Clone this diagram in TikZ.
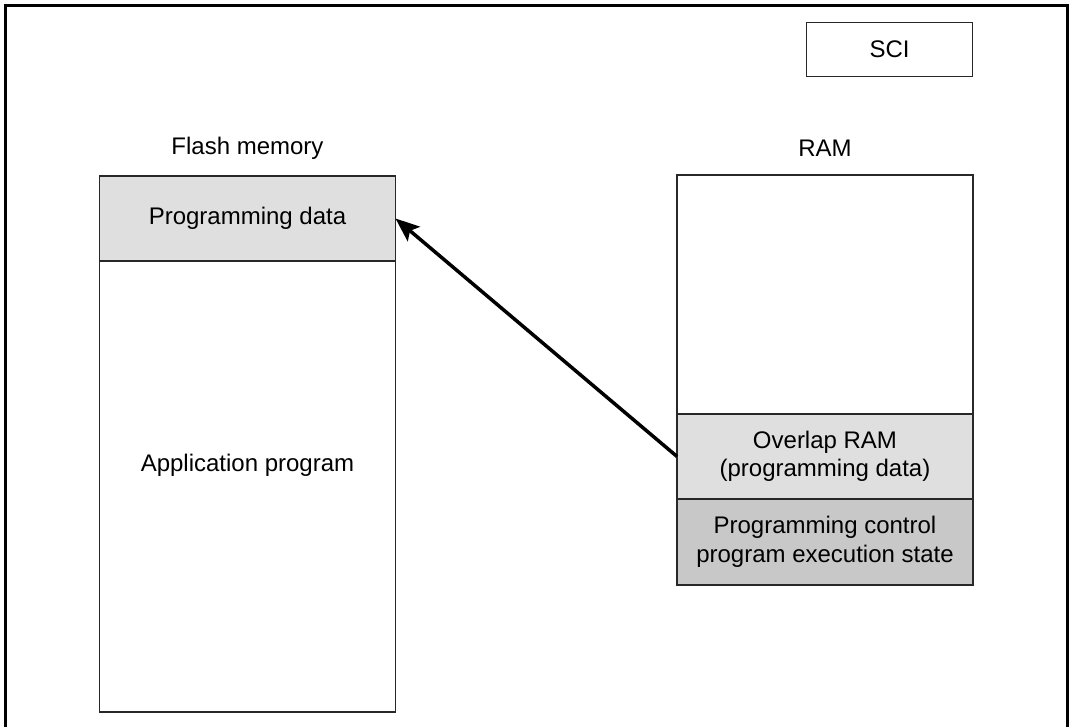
\documentclass[tikz,border=0pt]{standalone}
\usepackage{fontspec}
\setmainfont{Liberation Sans}
\usetikzlibrary{arrows.meta}
\definecolor{lightfill}{RGB}{223,223,223}
\definecolor{darkfill}{RGB}{200,200,200}
\definecolor{edge}{RGB}{40,40,40}
\begin{document}
\begin{tikzpicture}[x=1pt,y=-1pt,
  every node/.style={font=\fontsize{24}{28.5}\selectfont, inner sep=0pt, outer sep=0pt},
  memblock/.style={draw=edge, line width=1.3pt, rectangle, minimum width=296pt, align=center},
  lbl/.style={align=center},
  bigarrow/.style={line width=3.5pt, -{Stealth[length=24pt,width=19pt,inset=5pt]}}]
\useasboundingbox (0,0) rectangle (1072,727);
% outer frame (open at bottom)
\draw[line width=3pt] (5,727) -- (5,6) -- (1067,6) -- (1067,727);
% SCI
\node[draw=edge, line width=1.3pt, minimum width=166pt, minimum height=54pt] (sci) at (889.5,49.5) {SCI};
% Flash memory
\node[lbl] (flashlbl) at (247.5,148) {Flash memory};
\node[memblock, fill=lightfill, minimum height=85pt] (progdata) at (247.5,218.5) {Programming data};
\node[memblock, minimum height=451pt] (app) at (247.5,486.5) {};
\node[lbl] (applbl) at (247.5,465) {Application program};
% RAM
\node[lbl] (ramlbl) at (825,148) {RAM};
\node[memblock, minimum height=239pt] (ramtop) at (825,294.5) {};
\node[memblock, fill=lightfill, minimum height=85pt] (overlap) at (825,456.5) {Overlap RAM\\(programming data)};
\node[memblock, fill=darkfill, minimum height=86pt] (ctrl) at (825,542) {Programming control\\program execution state};
% arrow
\draw[bigarrow] (overlap.west) -- (progdata.east);
\end{tikzpicture}
\end{document}
